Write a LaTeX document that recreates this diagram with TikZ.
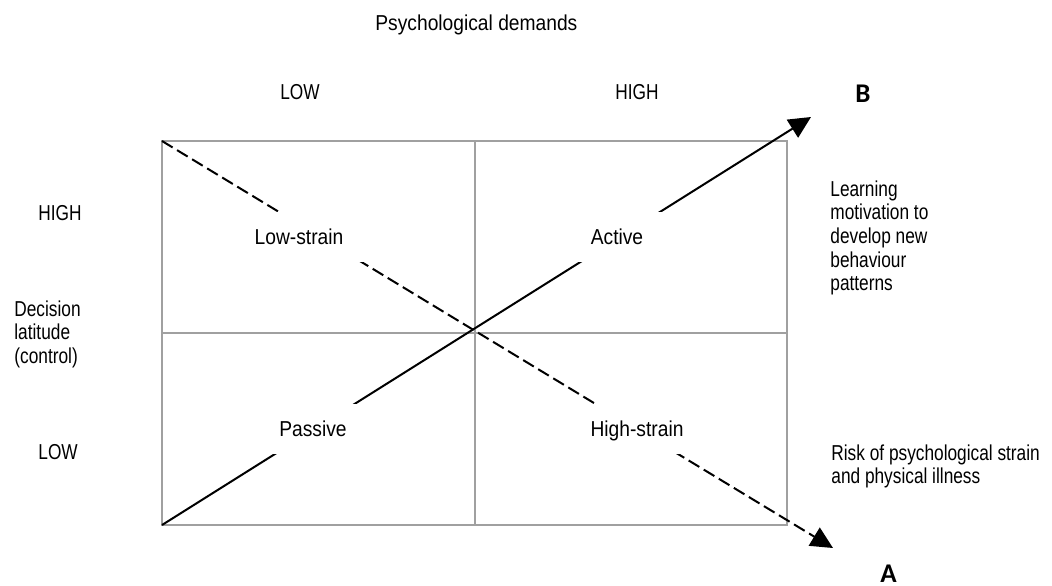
\documentclass[tikz,border=0pt]{standalone}
\usepackage{fontspec}
\setmainfont{Liberation Sans}[FakeStretch=0.89]
\newfontfamily\sidefont{Liberation Sans}[FakeStretch=0.80]
\newfontfamily\letterfont{Carlito}
\usetikzlibrary{arrows.meta}
\definecolor{gridgray}{HTML}{A0A0A0}
\begin{document}
\begin{tikzpicture}[x=0.5pt,y=-0.5pt,
  txt/.style={font={\fontsize{10.8}{11.85}\selectfont}, inner sep=0pt, align=left},
  side/.style={font={\sidefont\fontsize{10.8}{11.85}\selectfont}, inner sep=0pt, align=left},
  quad/.style={txt, fill=white, text height=7.75pt, text depth=0pt, minimum width=70pt, minimum height=25pt},
  letter/.style={font={\letterfont\bfseries\fontsize{13.5}{14}\selectfont}, inner sep=0pt},
  gridline/.style={draw=gridgray, line width=1pt},
  arr/.style={line width=1pt, -{Triangle[length=11pt,width=10.5pt]}},
  darr/.style={arr, dash pattern=on 6.2pt off 2.6pt}]
\useasboundingbox (0,0) rectangle (1052,585);
% grid corners
\coordinate (TL) at (162,141);
\coordinate (TR) at (787,141);
\coordinate (BL) at (162,525);
\coordinate (BR) at (787,525);
\coordinate (TM) at (475,141);
\coordinate (BM) at (475,525);
\coordinate (ML) at (162,333);
\coordinate (MR) at (787,333);
\coordinate (tipB) at (811,117);
\coordinate (tipA) at (833,548);
% grid
\draw[gridline] (TL) rectangle (BR);
\draw[gridline] (TM) -- (BM);
\draw[gridline] (ML) -- (MR);
% diagonals
\draw[arr] (BL) -- (tipB);
\draw[darr] (TL) -- (tipA);
% quadrant labels
\node[quad] (lowstrain) at (299,237) {Low-strain};
\node[quad] (active) at (617,237) {Active};
\node[quad] (passive) at (313,429) {Passive};
\node[quad] (highstrain) at (637,429) {High-strain};
% axis texts (base = baseline of last line)
\node[txt, anchor=base west] (psy) at (375,30) {Psychological demands};
\node[side, anchor=base] (lowtop) at (300,99) {LOW};
\node[side, anchor=base west] (hightop) at (615,99) {HIGH};
\node[letter, anchor=base west] (B) at (855,102) {B};
\node[side, anchor=base west] (highleft) at (38,220) {HIGH};
\node[side, anchor=base west] (dec) at (14,363.4) {Decision\\latitude\\(control)};
\node[side, anchor=base west] (lowleft) at (38,459) {LOW};
\node[side, anchor=base west] (learn) at (830,290.8) {Learning\\motivation to\\develop new\\behaviour\\patterns};
\node[side, anchor=base west] (risk) at (831,483.7) {Risk of psychological strain\\and physical illness};
\node[letter, anchor=base west] (A) at (880,582) {A};
\end{tikzpicture}
\end{document}
